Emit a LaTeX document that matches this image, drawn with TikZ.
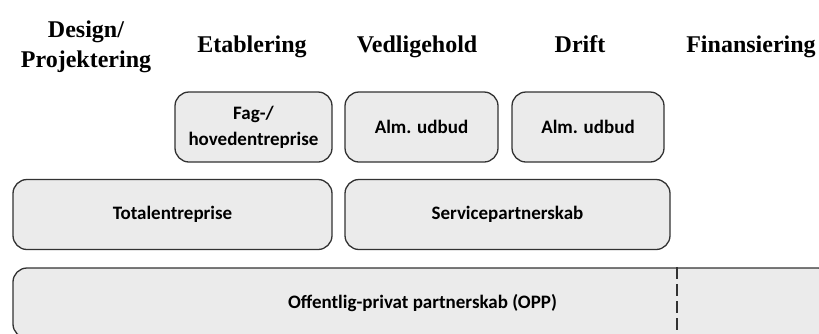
\documentclass[tikz,border=0pt]{standalone}
\usepackage{fontspec}
\setmainfont{Liberation Serif}
\newfontfamily\boxfont{Carlito}
\usepackage{tikz}
\usetikzlibrary{positioning}
\definecolor{boxfill}{RGB}{235,235,235}
\definecolor{boxline}{RGB}{50,50,50}
\tikzset{
  fase/.style={font=\bfseries\fontsize{24}{30}\selectfont, align=center,
               inner sep=0pt, anchor=base},
  udbud/.style={rectangle, draw=boxline, fill=boxfill, rounded corners=14pt,
                line width=1.3pt, font=\boxfont\bfseries\fontsize{19}{26}\selectfont,
                align=center, inner sep=0pt, minimum height=70pt},
  skel/.style={line width=2pt, dash pattern=on 12pt off 5pt, boxline}
}
\begin{document}
\begin{tikzpicture}[x=1pt, y=-1pt]
  \useasboundingbox (0,0) rectangle (819,333);
  % faser
  \node[fase] (design) at (86,37) {Design/};
  \node[fase] (proj) at (86,67) {Projektering};
  \node[fase] (etab) at (252,52) {Etablering};
  \node[fase] (vedl) at (417,52) {Vedligehold};
  \node[fase] (drift) at (580,52) {Drift};
  \node[fase] (fin) at (751,52) {Finansiering};
  % udbudsformer
  \node[udbud, minimum width=157pt] (fag) at (253.5,127) {Fag-/\\hovedentreprise};
  \node[udbud, minimum width=153pt] (alm1) at (421.5,127) {Alm. udbud};
  \node[udbud, minimum width=152pt] (alm2) at (588,127) {Alm. udbud};
  \node[udbud, minimum width=319pt] (total) at (172.5,214.5) {Totalentreprise};
  \node[udbud, minimum width=325pt] (service) at (507.5,214.5) {Servicepartnerskab};
  \node[udbud, minimum width=819pt] (opp) at (422.5,303) {Offentlig-privat partnerskab (OPP)};
  \coordinate (skel1) at (opp.north -| 677,0);
  \coordinate (skel2) at (opp.south -| 677,0);
  \draw[skel] (skel1) -- (skel2);
\end{tikzpicture}
\end{document}
